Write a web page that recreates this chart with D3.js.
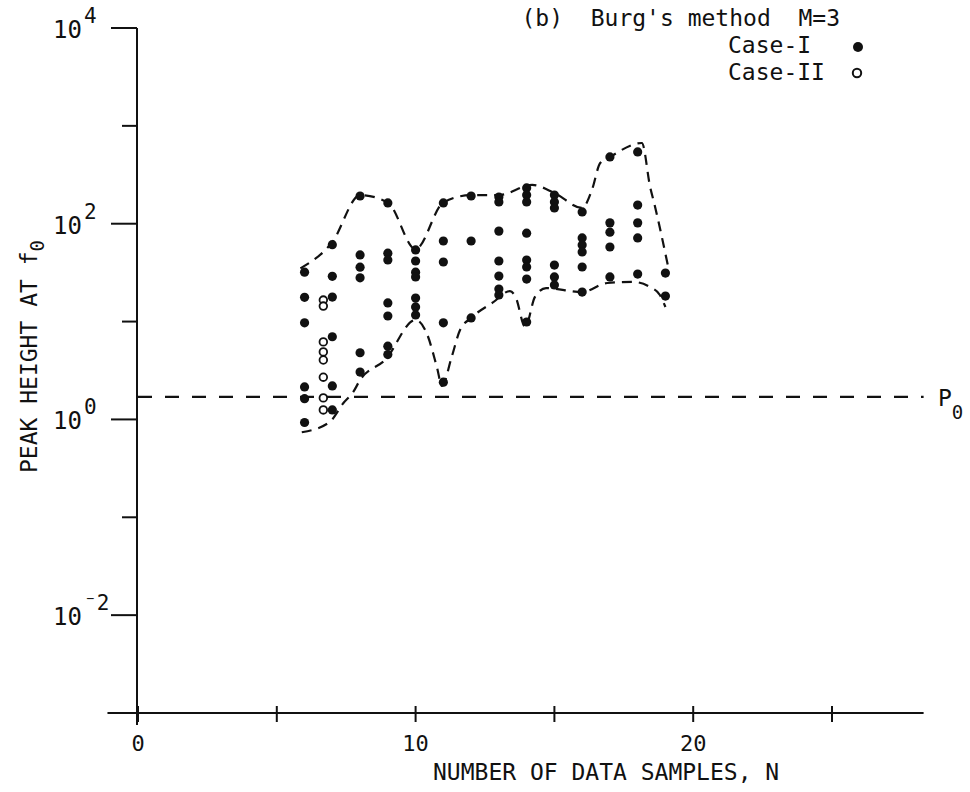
<!DOCTYPE html>
<html>
<head>
<meta charset="utf-8">
<script src="https://cdn.jsdelivr.net/npm/d3@7"></script>
<style>
  body { margin: 0; background: white; }
  text { font-family: "DejaVu Sans Mono", monospace; fill: #111; }
</style>
</head>
<body>
<div id="chart"></div>
<script>
// values: [N, peak height]
var caseI = [
    [6, 32], [6, 17.7], [6, 9.7], [6, 2.15], [6, 1.63], [6, 0.93],
    [7, 61], [7, 29], [7, 17.8], [7, 7.0], [7, 2.2], [7, 1.25],
    [8, 192], [8, 48], [8, 36], [8, 28], [8, 4.8], [8, 3.05],
    [9, 163], [9, 50], [9, 42.6], [9, 15.5], [9, 11.4], [9, 5.6], [9, 4.6],
    [10, 54], [10, 41.6], [10, 32], [10, 28.6], [10, 17.4], [10, 14.1], [10, 11.7],
    [11, 163], [11, 66.6], [11, 40.6], [11, 9.7], [11, 2.4],
    [12, 192], [12, 66.6], [12, 10.9],
    [13, 187], [13, 167], [13, 84], [13, 41.6], [13, 29.2], [13, 21.5], [13, 18.7],
    [14, 232], [14, 196], [14, 167], [14, 80], [14, 42.6], [14, 36.1], [14, 27.2], [14, 9.9],
    [15, 196], [15, 167], [15, 145], [15, 37.8], [15, 28.6], [15, 23.7],
    [16, 132], [16, 71.5], [16, 60.7], [16, 51.4], [16, 36.1], [16, 20],
    [17, 481], [17, 102], [17, 82], [17, 57.8], [17, 28.6],
    [18, 541], [18, 155], [18, 102], [18, 71.5], [18, 30.6],
    [19, 31.3], [19, 18.2]
];
var caseII = [
    [7, 16.6], [7, 14.4], [7, 6.2], [7, 4.9], [7, 4.05], [7, 2.7], [7, 1.66], [7, 1.25]
];

// dashed envelopes
var upperN = [5.85, 7.0, 8.0, 9.0, 10.0, 11.0, 12.0, 13.0, 14.2, 15.0, 16.0, 16.35, 16.65, 17.0, 18.15, 18.45, 18.6, 19.1];
var upperV = [35, 65, 196, 165, 55, 165, 196, 196, 249, 206, 145, 221, 417, 481, 668, 237, 160, 36];
var lowerN = [5.9, 6.9, 7.4, 7.75, 8.0, 8.9, 10.0, 10.4, 10.77, 10.95, 11.3, 11.6, 12.0, 12.8, 13.4, 13.6, 13.95, 14.3, 14.7, 16.0, 16.9, 17.85, 18.45, 18.8, 19.0];
var lowerV = [0.74, 0.94, 1.47, 1.9, 2.53, 4.05, 10.4, 7.6, 3.4, 2.2, 4.35, 8.2, 10.9, 15.8, 20.5, 17.9, 8.8, 17.9, 22, 20, 24.8, 25.4, 22.5, 18.7, 14.1];

var P0 = 1.7;

var xTicks = [0, 5, 10, 15, 20, 25];
var xTickLabels = [0, 10, 20];
var yMajor = [1e4, 1e2, 1, 1e-2];
var yMinor = [1e3, 10, 0.1];

var svg = d3.select("#chart").append("svg")
    .attr("width", 970)
    .attr("height", 792);

var x = d3.scaleLinear().domain([0, 25]).range([138, 832]);
var y = d3.scaleLog().domain([1e-3, 1e4]).range([713, 28]);

var axisG = svg.append("g").attr("stroke", "#111").attr("stroke-width", 2);

// axis lines, both run a little past the crossing
axisG.append("line")
    .attr("x1", x(0) - 1).attr("x2", x(0) - 1)
    .attr("y1", y(1e4)).attr("y2", y(1e-3) + 12);
axisG.append("line")
    .attr("x1", x(-1.1)).attr("x2", x(28.3))
    .attr("y1", y(1e-3)).attr("y2", y(1e-3));

axisG.selectAll(".ymaj").data(yMajor).enter()
    .append("line")
    .attr("x1", x(0) - 27).attr("x2", x(0) - 1)
    .attr("y1", function(d) { return y(d); })
    .attr("y2", function(d) { return y(d); });
axisG.selectAll(".ymin").data(yMinor).enter()
    .append("line")
    .attr("x1", x(0) - 16).attr("x2", x(0) - 1)
    .attr("y1", function(d) { return y(d); })
    .attr("y2", function(d) { return y(d); });
axisG.selectAll(".xt").data(xTicks).enter()
    .append("line")
    .attr("x1", function(d) { return x(d); })
    .attr("x2", function(d) { return x(d); })
    .attr("y1", y(1e-3) - 7)
    .attr("y2", y(1e-3) + 9);

// y tick labels: "10" plus a raised exponent
var yl = svg.selectAll(".ylab").data(yMajor).enter().append("g");
yl.append("text")
    .attr("x", 82)
    .attr("y", function(d) { return y(d) + 10; })
    .attr("text-anchor", "end")
    .style("font-size", "24px")
    .text("10");
yl.append("text")
    .attr("x", 84)
    .attr("y", function(d) { return y(d) - 5; })
    .style("font-size", "21px")
    .text(function(d) { return String(Math.round(Math.log10(d))).replace("-", "\u207B"); });

svg.selectAll(".xlab").data(xTickLabels).enter()
    .append("text")
    .attr("x", function(d) { return x(d); })
    .attr("y", 751)
    .attr("text-anchor", "middle")
    .style("font-size", "22px")
    .text(function(d) { return d; });

svg.append("text")
    .attr("x", 433).attr("y", 780)
    .style("font-size", "23px")
    .text("NUMBER OF DATA SAMPLES, N");

var ylab = svg.append("text")
    .attr("transform", "translate(37,473) rotate(-90)")
    .style("font-size", "23px");
ylab.append("tspan").text("PEAK HEIGHT AT f");
ylab.append("tspan").attr("dy", 7).style("font-size", "19px").text("0");

// title and legend
svg.append("text")
    .attr("x", 840).attr("y", 26)
    .attr("text-anchor", "end")
    .style("font-size", "23px")
    .style("white-space", "pre")
    .attr("xml:space", "preserve")
    .text("(b)  Burg's method  M=3");
svg.append("text").attr("x", 728).attr("y", 53).style("font-size", "23px").text("Case-I");
svg.append("text").attr("x", 728).attr("y", 80).style("font-size", "23px").text("Case-II");
svg.append("circle").attr("cx", 858).attr("cy", 47).attr("r", 5).attr("fill", "#111");
svg.append("circle").attr("cx", 857).attr("cy", 73).attr("r", 4.2)
    .attr("fill", "white").attr("stroke", "#111").attr("stroke-width", 2);

// P0 reference level
svg.append("line")
    .attr("x1", x(0)).attr("x2", x(28.3))
    .attr("y1", y(P0)).attr("y2", y(P0))
    .attr("stroke", "#111").attr("stroke-width", 2.2)
    .attr("stroke-dasharray", "14,13");
var p0lab = svg.append("text")
    .attr("x", 938).attr("y", y(P0) + 9)
    .style("font-size", "23px");
p0lab.append("tspan").text("P");
p0lab.append("tspan").attr("dy", 13).style("font-size", "19px").text("0");

// envelopes
var line = d3.line()
    .x(function(d) { return x(d[0]); })
    .y(function(d) { return y(d[1]); })
    .curve(d3.curveMonotoneX);

var upper = upperN.map(function(n, i) { return [n, upperV[i]]; });
var lower = lowerN.map(function(n, i) { return [n, lowerV[i]]; });

svg.selectAll(".env").data([upper, lower]).enter()
    .append("path")
    .attr("d", line)
    .attr("fill", "none")
    .attr("stroke", "#111")
    .attr("stroke-width", 2.2)
    .attr("stroke-dasharray", "10,7");

// points
svg.selectAll(".c1").data(caseI).enter()
    .append("circle")
    .attr("cx", function(d) { return x(d[0]); })
    .attr("cy", function(d) { return y(d[1]); })
    .attr("r", 4.6)
    .attr("fill", "#111");

// Case-II sits just left of its column in the original
svg.selectAll(".c2").data(caseII).enter()
    .append("circle")
    .attr("cx", function(d) { return x(d[0]) - 9; })
    .attr("cy", function(d) { return y(d[1]); })
    .attr("r", 3.8)
    .attr("fill", "white")
    .attr("stroke", "#111")
    .attr("stroke-width", 1.8);
</script>
</body>
</html>
